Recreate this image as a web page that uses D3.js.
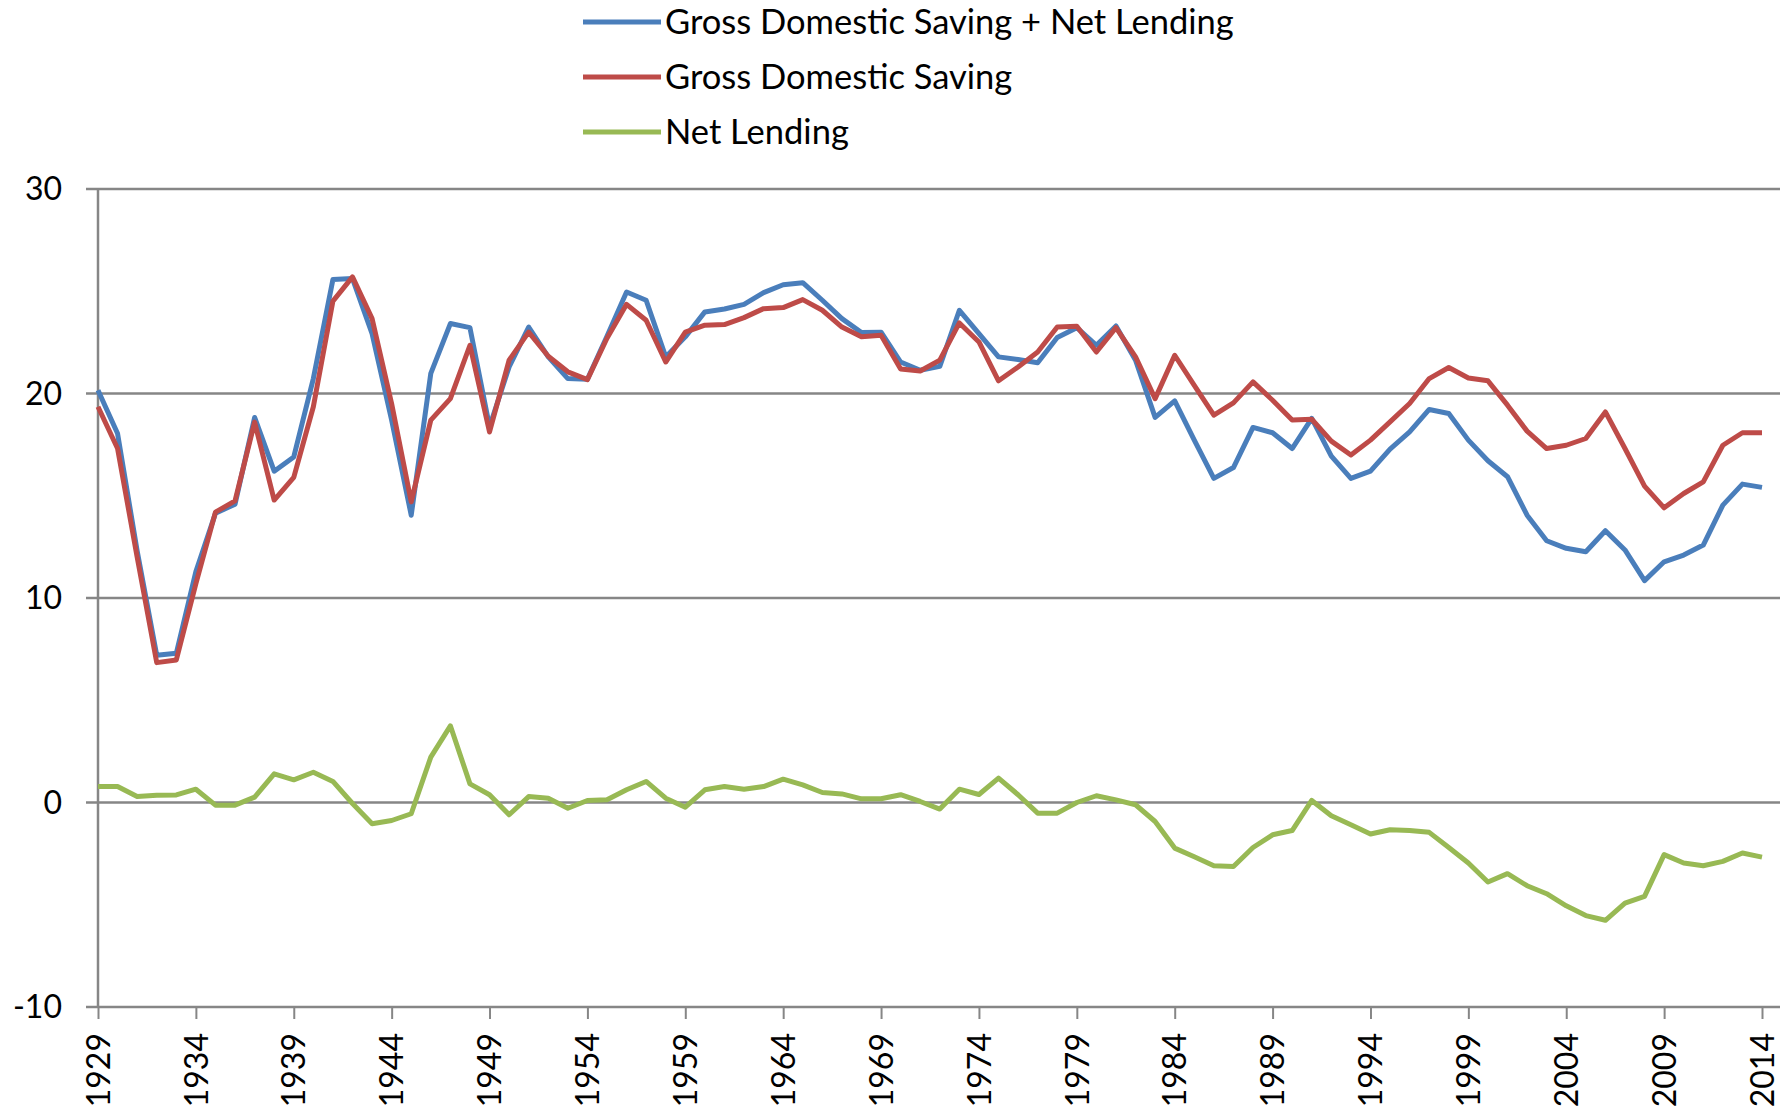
<!DOCTYPE html>
<html>
<head>
<meta charset="utf-8">
<script src="https://cdn.jsdelivr.net/npm/d3@7"></script>
<style>
  body { margin: 0; background: #fff; }
  text { font-family: Lato, "Open Sans", sans-serif; fill: #000; }
</style>
</head>
<body>
<svg id="chart" width="1792" height="1112"></svg>
<script>
// years on the x axis
const years = d3.range(1929, 2015);
const tickYears = [1929, 1934, 1939, 1944, 1949, 1954, 1959, 1964, 1969, 1974, 1979, 1984, 1989, 1994, 1999, 2004, 2009, 2014];
const yTicks = [-10, 0, 10, 20, 30];

// Gross Domestic Saving + Net Lending
const savingPlusLending = [
  20.16, 18.04, 12.3, 7.2, 7.3, 11.29, 14.14, 14.59, 18.83, 16.2,
  16.9, 20.73, 25.57, 25.62, 22.93, 18.7, 14.05, 20.98, 23.42, 23.22,
  18.37, 21.3, 23.25, 21.79, 20.73, 20.7, 22.8, 24.96, 24.56, 21.79,
  22.77, 23.99, 24.13, 24.36, 24.93, 25.32, 25.42, 24.56, 23.66, 22.98,
  23.0, 21.54, 21.14, 21.33, 24.07, 22.93, 21.79, 21.66, 21.5, 22.74,
  23.22, 22.36, 23.3, 21.63, 18.83, 19.64, 17.72, 15.85, 16.38, 18.34,
  18.08, 17.31, 18.78, 16.94, 15.85, 16.2, 17.28, 18.12, 19.22, 19.02,
  17.72, 16.71, 15.93, 14.05, 12.8, 12.43, 12.26, 13.29, 12.35, 10.85,
  11.77, 12.1, 12.59, 14.54, 15.57, 15.41
];

// Gross Domestic Saving
const grossSaving = [
  19.35, 17.31, 12.0, 6.84, 6.97, 10.7, 14.2, 14.75, 18.6, 14.79,
  15.9, 19.35, 24.52, 25.7, 23.66, 19.5, 14.7, 18.7, 19.75, 22.36,
  18.12, 21.63, 23.0, 21.82, 21.06, 20.68, 22.7, 24.36, 23.58, 21.54,
  23.0, 23.34, 23.37, 23.71, 24.15, 24.2, 24.59, 24.07, 23.25, 22.77,
  22.85, 21.2, 21.1, 21.63, 23.45, 22.52, 20.62, 21.3, 22.03, 23.25,
  23.29, 22.03, 23.22, 21.79, 19.75, 21.87, 20.4, 18.94, 19.54, 20.57,
  19.67, 18.7, 18.74, 17.67, 16.99, 17.72, 18.61, 19.51, 20.73, 21.27,
  20.76, 20.62, 19.43, 18.16, 17.31, 17.47, 17.8, 19.1, 17.31, 15.47,
  14.41, 15.11, 15.68, 17.47, 18.08, 18.08
];

// Net Lending
const netLending = [
  0.78, 0.78, 0.29, 0.36, 0.37, 0.65, -0.13, -0.13, 0.26, 1.4,
  1.11, 1.48, 1.03, -0.05, -1.04, -0.88, -0.55, 2.22, 3.75, 0.91,
  0.38, -0.6, 0.29, 0.21, -0.28, 0.1, 0.13, 0.62, 1.03, 0.21,
  -0.23, 0.62, 0.78, 0.65, 0.78, 1.14, 0.86, 0.49, 0.42, 0.18,
  0.18, 0.38, 0.05, -0.32, 0.65, 0.39, 1.19, 0.38, -0.52, -0.52,
  0.0, 0.33, 0.13, -0.11, -0.93, -2.23, -2.65, -3.09, -3.13, -2.2,
  -1.58, -1.37, 0.1, -0.65, -1.09, -1.54, -1.33, -1.37, -1.46, -2.2,
  -2.96, -3.89, -3.48, -4.07, -4.46, -5.05, -5.53, -5.76, -4.92, -4.59,
  -2.55, -2.96, -3.09, -2.88, -2.47, -2.67
];

const seriesNames = ["Gross Domestic Saving + Net Lending", "Gross Domestic Saving", "Net Lending"];
const seriesColors = ["#4a7ebb", "#be4b48", "#98b954"];
const seriesValues = [savingPlusLending, grossSaving, netLending];

const svg = d3.select("#chart");

const x = d3.scaleLinear().domain([1929, 2014]).range([98, 1762]);
const y = d3.scaleLinear().domain([-10, 30]).range([1007, 189]);
const gridRight = 1780;

// сетка
svg.append("g")
  .selectAll("line")
  .data(yTicks)
  .join("line")
  .attr("x1", 86)
  .attr("x2", gridRight)
  .attr("y1", d => y(d))
  .attr("y2", d => y(d))
  .attr("stroke", "#868686")
  .attr("stroke-width", 2.5);

// ось Y
svg.append("line")
  .attr("x1", x(1929)).attr("x2", x(1929))
  .attr("y1", y(30)).attr("y2", y(-10))
  .attr("stroke", "#868686")
  .attr("stroke-width", 2.5);

svg.append("g")
  .selectAll("text")
  .data(yTicks)
  .join("text")
  .attr("x", 62)
  .attr("y", d => y(d))
  .attr("dy", "0.35em")
  .attr("text-anchor", "end")
  .attr("font-size", 32)
  .text(d => d);

// ось X
const xAxis = d3.axisBottom(x)
  .tickValues(tickYears)
  .tickSize(12)
  .tickSizeOuter(0)
  .tickFormat(d3.format("d"));

const gx = svg.append("g")
  .attr("transform", `translate(0,${y(-10)})`)
  .call(xAxis);
gx.select(".domain").remove();
gx.selectAll(".tick line").attr("stroke", "#868686").attr("stroke-width", 2);
gx.selectAll(".tick text")
  .attr("font-size", 32)
  .attr("font-family", "Lato, 'Open Sans', sans-serif")
  .attr("fill", "#000")
  .attr("transform", "rotate(-90)")
  .attr("text-anchor", "end")
  .attr("x", -26)
  .attr("y", 0)
  .attr("dy", "0.35em");

// линии
const line = d3.line()
  .x((d, i) => x(years[i]))
  .y(d => y(d));

svg.append("g")
  .selectAll("path")
  .data(seriesValues)
  .join("path")
  .attr("d", line)
  .attr("fill", "none")
  .attr("stroke", (d, i) => seriesColors[i])
  .attr("stroke-width", 5)
  .attr("stroke-linejoin", "round");

// легенда
const legend = svg.append("g")
  .selectAll("g")
  .data(seriesNames)
  .join("g")
  .attr("transform", (d, i) => `translate(583,${22 + i * 55})`);

legend.append("line")
  .attr("x1", 0).attr("x2", 78)
  .attr("stroke", (d, i) => seriesColors[i])
  .attr("stroke-width", 5);

legend.append("text")
  .attr("x", 82)
  .attr("dy", "0.35em")
  .attr("font-size", 34.5)
  .text(d => d);
</script>
</body>
</html>
